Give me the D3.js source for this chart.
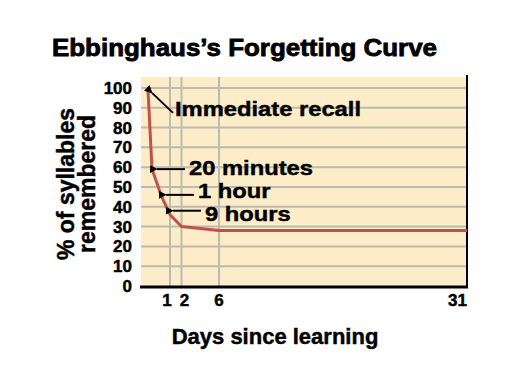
<!DOCTYPE html>
<html>
<head>
<meta charset="utf-8">
<script src="https://cdn.jsdelivr.net/npm/d3@7"></script>
<style>
  body { margin: 0; background: #fff; }
  text { font-family: "Liberation Sans", Arial, Helvetica, sans-serif; font-weight: bold; fill: #000; stroke: #000; stroke-width: 0.45px; }
</style>
</head>
<body>
<div id="chart"></div>
<script>
// forgetting curve values
const days = [0, 1 / 72, 1 / 24, 9 / 24, 1, 2, 6, 31];
const remembered = [99, 59, 46, 38, 36, 30, 28, 28];
const xTicks = [1, 2, 6, 31];
const yTicks = [0, 10, 20, 30, 40, 50, 60, 70, 80, 90, 100];
const noteLabels = ["Immediate recall", "20 minutes", "1 hour", "9 hours"];
const notePoints = [0, 1, 2, 3];

const width = 518, height = 389;
const margin = { top: 77, right: 51, bottom: 103, left: 141 };
const innerW = width - margin.left - margin.right;
const innerH = height - margin.top - margin.bottom;

// label nudges, the labels in the original are placed by hand
const noteTextShift = [0, -1, -4, 3];
const tickShift = [-3, 3, 0, 0];

// the original type is a wide helvetica, stretch the glyphs a bit
function widen(sel, f) {
    sel.each(function () {
        const len = this.getComputedTextLength();
        d3.select(this).attr("textLength", len * f).attr("lengthAdjust", "spacingAndGlyphs");
    });
}

// the x axis of the original is stretched by hand, so use a piecewise scale
const x = d3.scaleLinear()
    .domain(days)
    .range([7, 11, 20, 27, 29, 40.5, 78, innerW]);
const y = d3.scaleLinear().domain([0, 105.5]).range([innerH, 0]);

const svg = d3.select("#chart").append("svg")
    .attr("width", width)
    .attr("height", height);

svg.append("defs").append("marker")
    .attr("id", "head")
    .attr("viewBox", "0 0 10 10")
    .attr("refX", 1).attr("refY", 5)
    .attr("markerWidth", 4).attr("markerHeight", 4)
    .attr("orient", "auto-start-reverse")
    .append("path")
    .attr("d", "M0,5L10,0L10,10Z")
    .attr("fill", "#000");

svg.append("text")
    .attr("x", 52).attr("y", 56)
    .attr("font-size", 23)
    .attr("textLength", 385)
    .attr("lengthAdjust", "spacingAndGlyphs")
    .style("stroke-width", "0.8px")
    .text("Ebbinghaus\u2019s Forgetting Curve");

const g = svg.append("g")
    .attr("transform", "translate(" + margin.left + "," + margin.top + ")");

g.append("rect")
    .attr("width", innerW).attr("height", innerH)
    .attr("fill", "#fcedc8");

g.selectAll(".hgrid").data(yTicks.filter(d => d > 0)).join("line")
    .attr("class", "hgrid")
    .attr("x1", 0).attr("x2", innerW)
    .attr("y1", d => y(d)).attr("y2", d => y(d))
    .attr("stroke", "#bdbab2").attr("stroke-width", 2);

g.selectAll(".vgrid").data(xTicks.slice(0, 3)).join("line")
    .attr("class", "vgrid")
    .attr("x1", d => x(d)).attr("x2", d => x(d))
    .attr("y1", 0).attr("y2", innerH)
    .attr("stroke", "#bdbab2").attr("stroke-width", 2);

// right border and bottom axis line
g.append("line")
    .attr("x1", innerW).attr("x2", innerW)
    .attr("y1", -2).attr("y2", innerH)
    .attr("stroke", "#000").attr("stroke-width", 2);
g.append("line")
    .attr("x1", -1).attr("x2", innerW + 1)
    .attr("y1", innerH + 1).attr("y2", innerH + 1)
    .attr("stroke", "#000").attr("stroke-width", 3);

const line = d3.line()
    .x((d, i) => x(days[i]))
    .y(d => y(d));

g.append("path")
    .datum(remembered)
    .attr("d", line)
    .attr("fill", "none")
    .attr("stroke", "#c4504a")
    .attr("stroke-width", 3)
    .attr("stroke-linejoin", "round");

// y tick labels
g.selectAll(".ylab").data(yTicks).join("text")
    .attr("class", "ylab")
    .attr("x", -9)
    .attr("y", d => y(d))
    .attr("dy", "0.36em")
    .attr("text-anchor", "end")
    .attr("font-size", 17)
    .text(d => d);

// x tick labels
g.selectAll(".xlab").data(xTicks).join("text")
    .attr("class", "xlab")
    .attr("x", (d, i) => x(d) + tickShift[i])
    .attr("y", innerH + 20)
    .attr("text-anchor", (d, i) => i === xTicks.length - 1 ? "end" : "middle")
    .attr("font-size", 17)
    .text(d => d);

// annotations
notePoints.forEach((p, k) => {
    const px = x(days[p]), py = y(remembered[p]);
    let t;
    if (k === 0) {
        g.append("line")
            .attr("x1", px + 4).attr("y1", py + 3)
            .attr("x2", px + 25).attr("y2", py + 23)
            .attr("stroke", "#000").attr("stroke-width", 2)
            .attr("marker-start", "url(#head)");
        t = g.append("text")
            .attr("x", px + 27).attr("y", py + 26);
    } else {
        g.append("line")
            .attr("x1", px + 5).attr("y1", py)
            .attr("x2", px + 33).attr("y2", py)
            .attr("stroke", "#000").attr("stroke-width", 2)
            .attr("marker-start", "url(#head)");
        t = g.append("text")
            .attr("x", px + 37).attr("y", py + noteTextShift[k])
            .attr("dy", "0.35em");
    }
    t.attr("class", "note").attr("font-size", 21).text(noteLabels[k]);
});
widen(g.selectAll(".note"), 1.13);

// axis titles
svg.append("text")
    .attr("x", 275).attr("y", 344)
    .attr("text-anchor", "middle")
    .attr("font-size", 22)
    .text("Days since learning");

const yTitle = svg.append("text")
    .attr("transform", "translate(74,184) rotate(-90)")
    .attr("text-anchor", "middle")
    .attr("font-size", 23);
yTitle.append("tspan").attr("x", 0).attr("y", 0).text("% of syllables");
yTitle.append("tspan").attr("x", 0).attr("y", 21).text("remembered");
</script>
</body>
</html>
